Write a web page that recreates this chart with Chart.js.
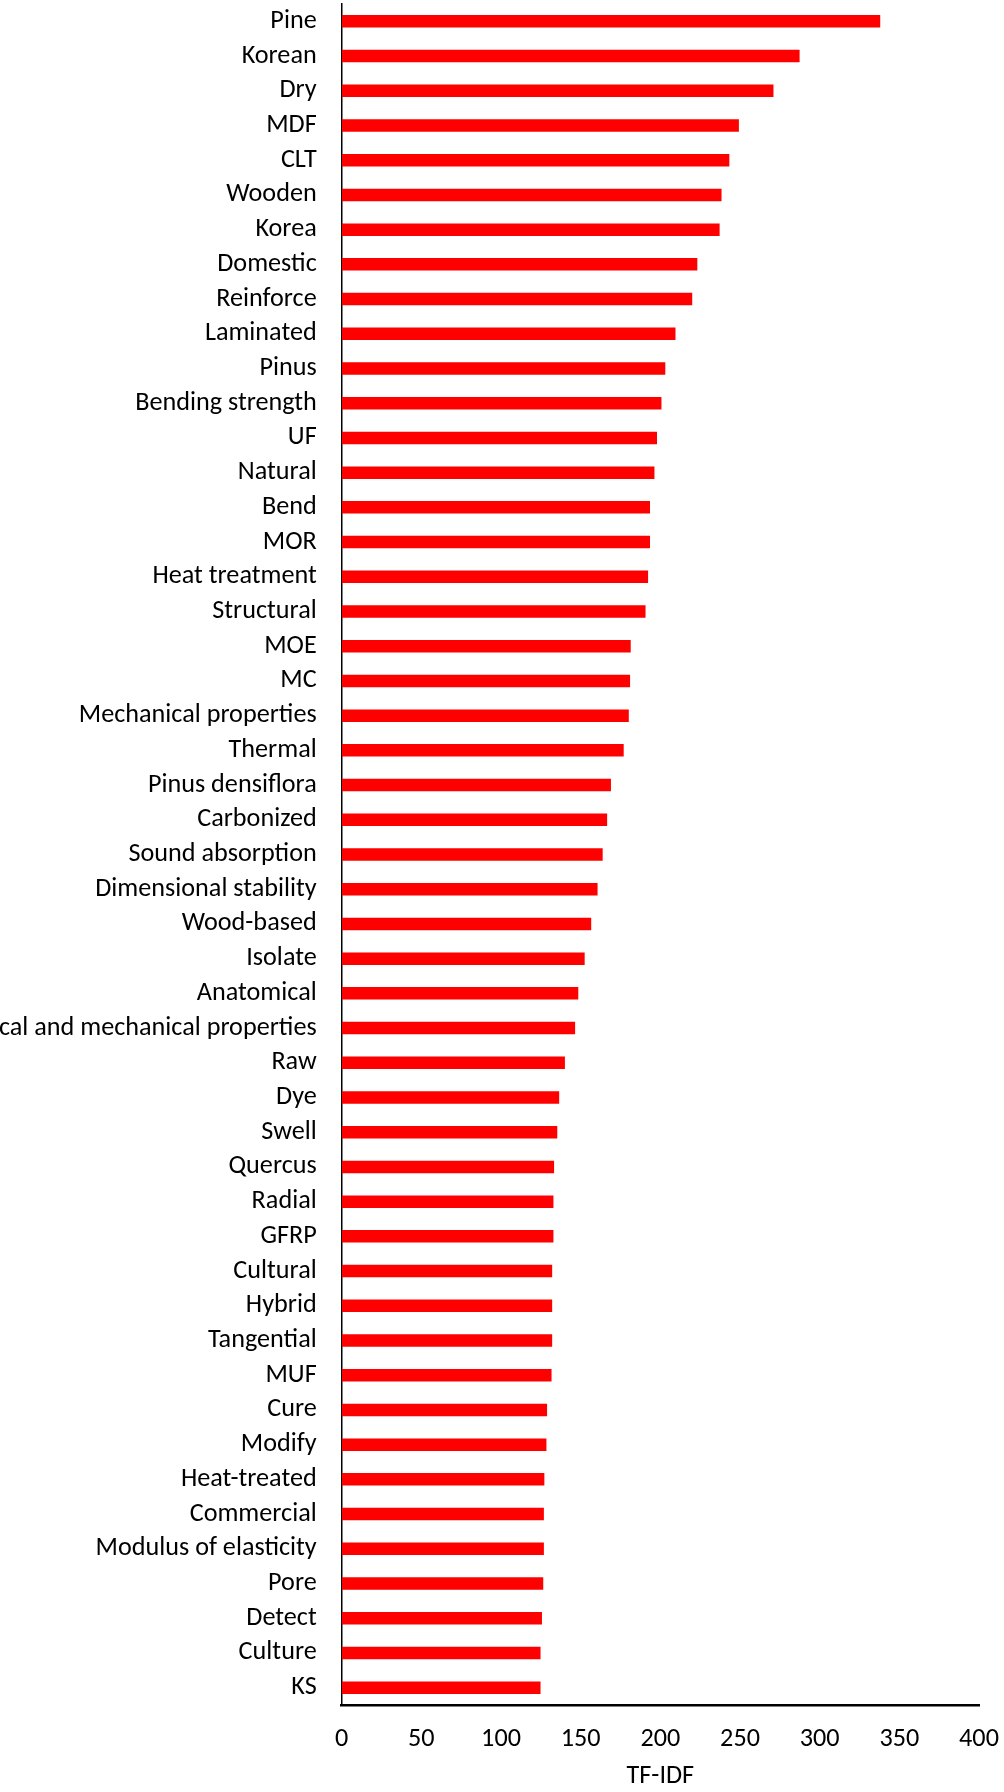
<!DOCTYPE html>
<html>
<head>
<meta charset="utf-8">
<script src="https://cdn.jsdelivr.net/npm/chart.js@4/dist/chart.umd.min.js"></script>
<style>
  html, body { margin: 0; padding: 0; background: #ffffff; }
  #wrap { width: 1004px; height: 1792px; position: relative; }
  canvas { display: block; }
</style>
</head>
<body>
<div id="wrap"><canvas id="c" width="1004" height="1792"></canvas></div>
<script>
const categories = [
  "Pine", "Korean", "Dry", "MDF", "CLT", "Wooden", "Korea", "Domestic", "Reinforce",
  "Laminated", "Pinus", "Bending strength", "UF", "Natural", "Bend", "MOR",
  "Heat treatment", "Structural", "MOE", "MC", "Mechanical properties", "Thermal",
  "Pinus densiflora", "Carbonized", "Sound absorption", "Dimensional stability",
  "Wood-based", "Isolate", "Anatomical", "Physical and mechanical properties", "Raw",
  "Dye", "Swell", "Quercus", "Radial", "GFRP", "Cultural", "Hybrid", "Tangential",
  "MUF", "Cure", "Modify", "Heat-treated", "Commercial", "Modulus of elasticity",
  "Pore", "Detect", "Culture", "KS"
];
const tfidfValues = [
  338.0, 287.4, 271.0, 249.3, 243.3, 238.4, 237.2, 223.2, 220.0,
  209.5, 203.1, 200.7, 197.9, 196.3, 193.5, 193.5,
  192.3, 190.7, 181.4, 181.0, 180.2, 177.0,
  169.0, 166.6, 163.8, 160.6,
  156.6, 152.5, 148.5, 146.5, 140.1,
  136.5, 135.3, 133.3, 132.9, 132.9, 132.1, 132.1, 132.1,
  131.7, 128.9, 128.5, 127.2, 126.9, 126.9,
  126.5, 125.7, 124.8, 124.8
];
const xTickMin = 0;
const xTickMax = 400;
const xTickStep = 50;
const xAxisTitle = "TF-IDF";

const FAMILY = "Carlito, Calibri, Lato, 'Noto Sans', sans-serif";
// size the font so that a reference label matches the width seen in the picture
const mctx = document.createElement('canvas').getContext('2d');
mctx.font = "100px " + FAMILY;
const refW = mctx.measureText("Mechanical properties").width;
const fontSize = Math.round(100 * 238 / refW * 10) / 10;

const ctx = document.getElementById('c').getContext('2d');
new Chart(ctx, {
  type: 'bar',
  data: {
    labels: categories,
    datasets: [{
      data: tfidfValues,
      backgroundColor: '#ff0000',
      borderWidth: 0,
      barPercentage: 0.36,
      categoryPercentage: 1.0
    }]
  },
  options: {
    indexAxis: 'y',
    responsive: false,
    maintainAspectRatio: false,
    devicePixelRatio: 1,
    animation: false,
    layout: { padding: { top: 4, right: 25, bottom: 0, left: 0 } },
    plugins: {
      legend: { display: false },
      tooltip: { enabled: false },
      title: { display: false }
    },
    scales: {
      x: {
        type: 'linear',
        min: xTickMin,
        max: xTickMax,
        ticks: {
          stepSize: xTickStep,
          color: '#000000',
          padding: 19,
          font: { family: FAMILY, size: fontSize }
        },
        grid: { display: false, drawTicks: false },
        border: { display: true, color: '#000000', width: 2.5 },
        title: {
          display: true,
          text: xAxisTitle,
          color: '#000000',
          padding: { top: 10, bottom: 0 },
          font: { family: FAMILY, size: fontSize }
        },
        afterFit: function (scale) {
          scale.paddingLeft = 0;
          scale.paddingRight = 0;
          scale.height = 87;
        }
      },
      y: {
        type: 'category',
        ticks: {
          autoSkip: false,
          color: '#000000',
          padding: 25,
          font: { family: FAMILY, size: fontSize }
        },
        grid: { display: false, drawTicks: false },
        border: { display: true, color: '#000000', width: 1.5 },
        afterFit: function (scale) {
          scale.width = 341.7;
          scale.paddingTop = 0;
          scale.paddingBottom = 0;
        }
      }
    }
  }
});
</script>
</body>
</html>
